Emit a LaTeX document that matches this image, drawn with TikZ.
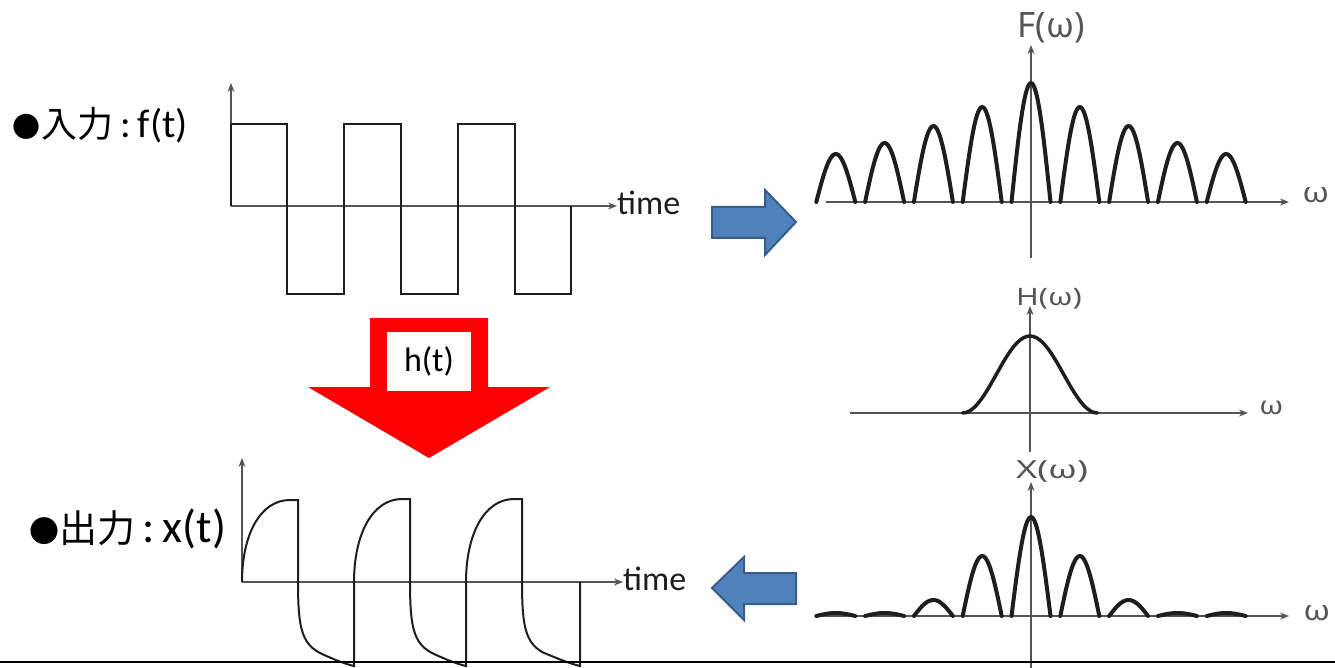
\documentclass[tikz,border=0pt]{standalone}
\usepackage{fontspec}
\newfontfamily\cjkfont{Noto Sans CJK JP}
\newfontfamily\calfont{Carlito}
\newfontfamily\axfont{Noto Sans}
\usetikzlibrary{arrows.meta}
\definecolor{ppblue}{RGB}{79,129,189}
\definecolor{ppedge}{RGB}{56,93,138}
\definecolor{axgray}{RGB}{85,85,85}
\definecolor{ink}{RGB}{30,30,30}

\begin{document}
\begin{tikzpicture}
    [
      x=1pt, y=-1pt,
      every node/.style={inner sep=0pt},
      axis/.style={axgray, line width=1.3pt, -{Stealth[length=9pt,width=7pt]}},
      wave/.style={ink, line width=2.4pt, line join=miter},
      lobe/.style={ink, line width=4pt, line cap=round},
      bell/.style={ink, line width=3.5pt, line cap=round},
      blockarrow/.style={fill=ppblue, draw=ppedge, line width=2pt},
      omega/.style={font=\axfont\fontsize{28}{28}\selectfont, text=axgray, xscale=1.2},
      time/.style={font=\calfont\fontsize{34}{34}\selectfont, text=ink},
    ]

    \useasboundingbox (0,0) rectangle (1335,668);

    % input f(t)
    \node [anchor=base west] (inlabel) at (12,138)
      {{\cjkfont\fontsize{28}{28}\selectfont ●}\,{\cjkfont\fontsize{36}{36}\selectfont 入力}{\calfont\fontsize{40}{40}\selectfont\,:\,f(t)}};
    \coordinate (in0) at (231,206);
    \node [time, anchor=base west] (intime) at (617,215) {time};
    \draw [axis] (in0) -- (231,83);
    \draw [axis] (in0) -- (in0 -| intime.west);
    \draw [wave] (in0) -- (231,124) -- (287,124) -- (287,294) -- (344,294) -- (344,124)
      -- (401,124) -- (401,294) -- (458,294) -- (458,124) -- (515,124) -- (515,294)
      -- (571,294) -- (571,206);

    % h(t)
    \fill [red] (370,318) -- (488,318) -- (488,387) -- (550,387) -- (429,458)
      -- (308,387) -- (370,387) -- cycle;
    \node [fill=white, minimum width=84pt, minimum height=59pt,
      font=\calfont\fontsize{34}{34}\selectfont] (hbox) at (429,361.5) {h(t)};

    % output x(t)
    \node [anchor=base west] (outlabel) at (29,542)
      {{\cjkfont\fontsize{30}{30}\selectfont ●}{\cjkfont\fontsize{38}{38}\selectfont 出力}{\calfont\fontsize{46}{46}\selectfont\,:\,x(t)}};
    \coordinate (out0) at (242,582);
    \node [time, anchor=base west] (outtime) at (623,590) {time};
    \draw [axis] (out0) -- (242,458);
    \draw [axis] (out0) -- (out0 -| outtime.west);
    \draw [wave, line width=2pt] (out0) .. controls (242,535) and (260,500) .. (290,500) -- (298,500) -- (298,582)
      .. controls (298,628) and (302,642) .. (318,652) .. controls (330,658) and (345,664) .. (354,666) -- (354,582)
      .. controls (354,535) and (372,499) .. (402,499) -- (410,499) -- (410,582)
      .. controls (410,628) and (414,642) .. (430,652) .. controls (442,658) and (457,664) .. (466,666) -- (466,582)
      .. controls (466,535) and (484,499) .. (514,499) -- (522,499) -- (522,582)
      .. controls (522,628) and (526,642) .. (542,652) .. controls (556,658) and (571,664) .. (580,666) -- (580,582);

    % blue arrows
    \draw [blockarrow] (712,207) -- (765,207) -- (765,190) -- (796,222) -- (765,255)
      -- (765,238) -- (712,238) -- cycle;
    \draw [blockarrow] (712,588) -- (744,557) -- (744,573) -- (796,573) -- (796,604)
      -- (744,604) -- (744,620) -- cycle;

    % F(w)
    \draw [axis] (826,202) -- (1289,202);
    \draw [axis] (1031,258) -- (1031,45);
    \node [anchor=base, text=axgray, font=\axfont\fontsize{35}{35}\selectfont] (flabel) at (1051,38) {F(ω)};
    \node [omega, anchor=base west] (fomega) at (1302,203) {ω};
    \foreach \k/\h in {-4/48,-3/59,-2/76,-1/95,0/119,1/95,2/76,3/59,4/48}
      \draw [lobe] plot [domain=-1:1, samples=31] ({1031+48.8*\k+19.5*\x},{202-\h*cos(90*\x)});

    % H(w)
    \draw [axis] (850,413) -- (1248,413);
    \draw [axis] (1030,452) -- (1030,306);
    \node [anchor=base, text=axgray, xscale=1.28, font=\axfont\fontsize{24}{24}\selectfont] (hlabel) at (1049,305) {H(ω)};
    \node [omega, anchor=base west, font=\axfont\fontsize{25}{25}\selectfont] (homega) at (1259,414) {ω};
    \draw [bell] plot [domain=-1:1, samples=41] ({1030+67.5*\x},{413-38.5*(1+cos(180*\x))});

    % X(w)
    \draw [axis] (816,616) -- (1289,616);
    \draw [axis] (1031,668) -- (1031,482);
    \node [anchor=base, text=axgray, xscale=1.45, font=\axfont\fontsize{25}{25}\selectfont] (xlabel) at (1052,478) {X(ω)};
    \node [omega, anchor=base west] (xomega) at (1303,620) {ω};
    \foreach \k/\h in {-4/3,-3/3,-2/16,-1/60,0/99,1/60,2/16,3/3,4/3}
      \draw [lobe] plot [domain=-1:1, samples=31] ({1031+48.8*\k+19.5*\x},{616-\h*cos(90*\x)});

    \draw [black, line width=1.5pt] (0,662) -- (1335,662);
  \end{tikzpicture}
\end{document}
